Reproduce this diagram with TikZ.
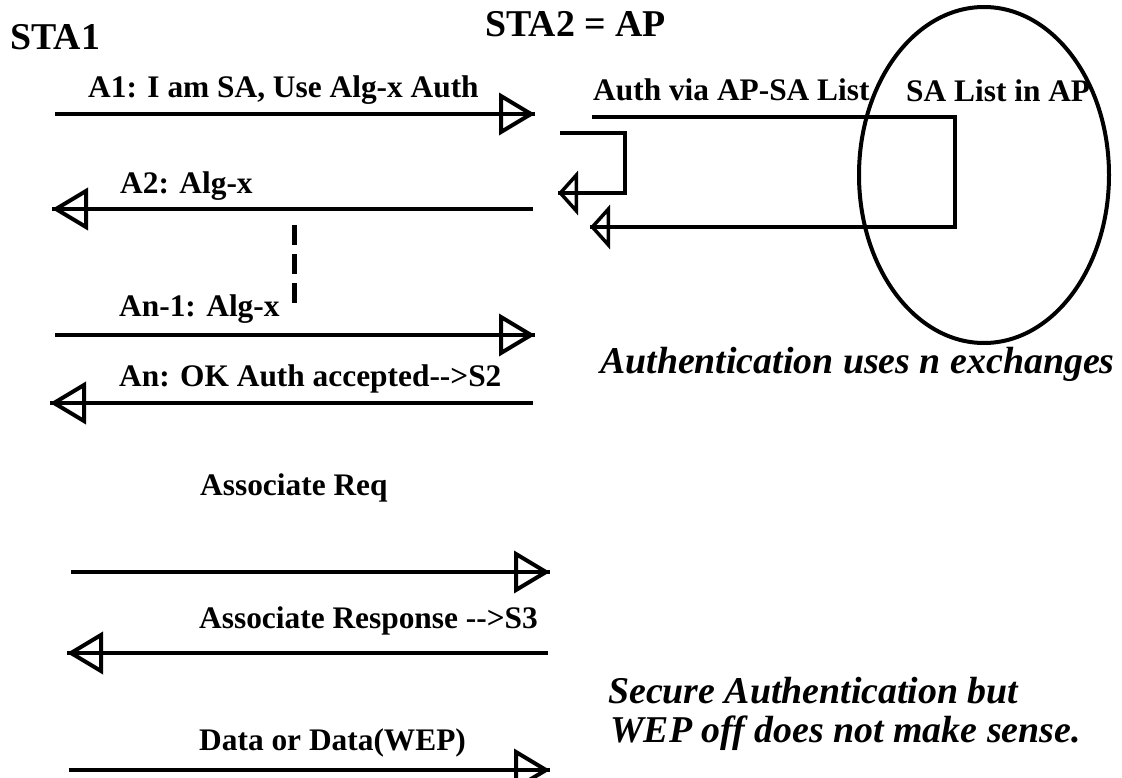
\documentclass[tikz,border=0pt]{standalone}
\usepackage{fontspec}
\setmainfont{Liberation Serif}
\usetikzlibrary{arrows.meta}
\begin{document}
\begin{tikzpicture}
  [x=1bp,y=-1bp,
    msg/.style={line width=4bp,-{Triangle[open,length=36bp,width=42bp]},postaction={draw,-}},
    loopmsg/.style={line width=3.5bp,-{Triangle[open,length=20bp,width=44bp]},postaction={draw,-}},
    lbl/.style={anchor=base west,inner sep=0pt,font=\fontsize{31.5}{34}\selectfont\bfseries},
    head/.style={anchor=base west,inner sep=0pt,font=\fontsize{38}{42}\selectfont\bfseries},
    note/.style={anchor=base west,inner sep=0pt,font=\fontsize{38}{42}\selectfont\bfseries\itshape},
]
  \useasboundingbox (0,0) rectangle (1122,778);

  \node[head](sta1) at (10,50) {STA1};
  \node[head](sta2) at (485,37) {STA2 = AP};

  % authentication
  \coordinate (a1s) at (55,114);  \coordinate (a1e) at (535,114);
  \coordinate (a2s) at (533,209); \coordinate (a2e) at (52,209);
  \coordinate (a3s) at (55,335);  \coordinate (a3e) at (535,335);
  \coordinate (a4s) at (533,403); \coordinate (a4e) at (50,403);

  \node[lbl](a1) at (88,98) {A1: I am SA, Use Alg-x Auth};
  \node[lbl](a2) at (120,193) {A2: Alg-x};
  \node[lbl](a3) at (119,316) {An-1: Alg-x};
  \node[lbl](a4) at (119,386) {An: OK Auth accepted-{}->S2};

  \draw[msg] (a1s)--(a1e);
  \draw[msg] (a2s)--(a2e);
  \draw[msg] (a3s)--(a3e);
  \draw[msg] (a4s)--(a4e);

  \coordinate (d1) at (294,225); \coordinate (d2) at (294,303);
  \draw[line width=5bp,dash pattern=on 20bp off 9bp] (d1)--(d2);

  % list in AP
  \node[lbl](via) at (593,101) {Auth via AP-SA List};
  \node[lbl](list) at (906,102) {SA List in AP};
  \draw[line width=4bp] (984,175) ellipse [x radius=125, y radius=168];

  \coordinate (l1s) at (592,117); \coordinate (l1c) at (955,227); \coordinate (l1e) at (590,227);
  \coordinate (l2s) at (560,133); \coordinate (l2c) at (625,193); \coordinate (l2e) at (558,193);
  \draw[loopmsg] (l1s)-|(l1c)--(l1e);
  \draw[loopmsg] (l2s)-|(l2c)--(l2e);

  \node[note](ex) at (600,373) {Authentication uses n exchanges};

  % association and data
  \coordinate (b1s) at (71,572);  \coordinate (b1e) at (550,572);
  \coordinate (b2s) at (548,653); \coordinate (b2e) at (67,653);
  \coordinate (b3s) at (69,770);  \coordinate (b3e) at (550,770);

  \node[lbl](b1) at (200,495) {Associate Req};
  \node[lbl](b2) at (199,628) {Associate Response -{}->S3};
  \node[lbl](b3) at (199,750) {Data or Data(WEP)};

  \draw[msg] (b1s)--(b1e);
  \draw[msg] (b2s)--(b2e);
  \draw[msg] (b3s)--(b3e);

  \node[note](sec1) at (608,703) {Secure Authentication but};
  \node[note](sec2) at (610,742) {WEP off does not make sense.};

\end{tikzpicture}
\end{document}
